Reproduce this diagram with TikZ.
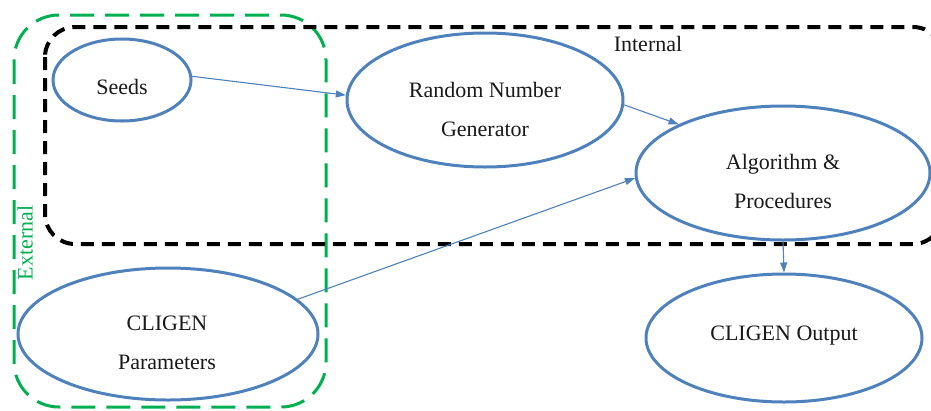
\documentclass[tikz,border=0pt]{standalone}
\usepackage{fontspec}
\setmainfont{Liberation Serif}
\usetikzlibrary{shapes.geometric,arrows.meta}
\definecolor{eblue}{RGB}{79,129,189}
\definecolor{egreen}{RGB}{0,176,80}
\begin{document}
\begin{tikzpicture}[x=1pt,y=-1pt,
  oval/.style={ellipse, draw=eblue, line width=3pt, fill=white, inner sep=0pt},
  lbl/.style={font=\fontsize{22}{39}\selectfont, text=black!90, align=center, inner sep=0pt},
  conn/.style={draw=eblue, line width=1.1pt, -{Triangle[length=10pt,width=7pt]}},
  extbox/.style={draw=egreen, line width=3pt, dash pattern=on 24pt off 11pt, rounded corners=45pt},
  intbox/.style={draw=black, line width=4pt, dash pattern=on 13pt off 8pt, rounded corners=30pt}
]
\useasboundingbox (0,0) rectangle (931,410);
\draw[extbox] (14,15) rectangle (326,407);
\draw[intbox] (45,27) rectangle (943,244);

\node[oval, minimum width=138pt, minimum height=82pt] (seeds) at (122,80) {};
\node[oval, minimum width=276pt, minimum height=134pt] (rng) at (485,100) {};
\node[oval, minimum width=294pt, minimum height=134pt] (alg) at (783,173) {};
\node[oval, minimum width=300pt, minimum height=132pt] (par) at (168,334) {};
\node[oval, minimum width=276pt, minimum height=128pt] (out) at (784,338) {};

\node[lbl] (tseeds) at (122,87) {Seeds};
\node[lbl] (trng) at (485,109) {Random Number\\Generator};
\node[lbl] (talg) at (783,181) {Algorithm \&\\Procedures};
\node[lbl] (tpar) at (167,343) {CLIGEN\\Parameters};
\node[lbl] (tout) at (784,336) {CLIGEN Output};
\node[lbl] (tint) at (648,44) {Internal};
\node[lbl, text=egreen, rotate=90] (ext) at (25,243) {External};

\draw[conn] (seeds.3) -- (rng.178);
\draw[conn] (rng.358) -- (alg.155);
\draw[conn] (par.15) -- (alg.182);
\draw[conn] (alg.south) -- (out.north);
\end{tikzpicture}
\end{document}
